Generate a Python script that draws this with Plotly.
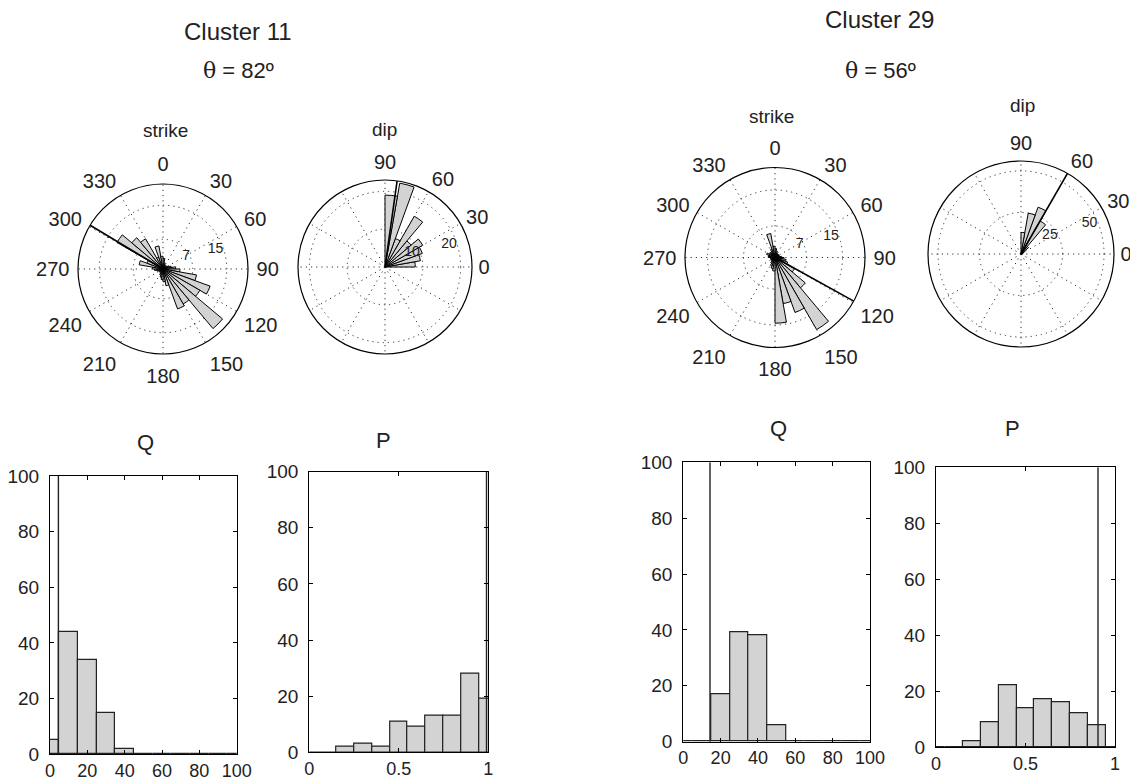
import plotly.graph_objects as go

W, H = 1130, 783

# ---------------- data ----------------
strike_centers = [5 + 10 * i for i in range(36)]
dip_centers = [5 + 10 * i for i in range(9)]

strike11 = [2.5, 1.5, 1, 1, 1, 1, 1.5, 2, 3, 4, 8, 11.8, 10, 18.3, 9.5, 10, 4, 3,
            2.5, 2, 1.5, 1, 1, 1, 1, 1.5, 2, 2.5, 5.7, 4, 12.5, 9.6, 8.2, 3, 5.5, 3]
dip11 = [8, 9.5, 10.5, 11.5, 9, 15.5, 8, 22.5, 19]
strike29 = [2, 1.5, 1, 1, 1, 1, 1, 1, 1.5, 2, 2.5, 3, 5, 8.8, 18.5, 13, 10.4, 14.6,
            3, 2.5, 2, 1.5, 1, 1, 1, 1, 1, 1.5, 1.5, 2, 1.5, 1.5, 1.5, 2, 5.4, 2.5]
dip29 = [1, 1, 1.5, 2.5, 6, 23, 30, 25, 13]

strike11_line, dip11_line = 301, 82
strike29_line, dip29_line = 119, 60

q_centers = [0, 10, 20, 30, 40, 50, 60, 70, 80, 90, 100]
p_centers = [0, 0.1, 0.2, 0.3, 0.4, 0.5, 0.6, 0.7, 0.8, 0.9, 1.0]
q11 = [5, 44, 34, 15, 2, 0, 0, 0, 0, 0, 0]
p11 = [0, 0, 2, 3, 2, 11, 9, 13, 13, 28, 19]
q29 = [0, 0, 17, 39, 38, 6, 0, 0, 0, 0, 0]
p29 = [0, 0, 2, 9, 22, 14, 17, 16, 12, 8, 0]
q11_line, p11_line = 4.5, 0.99
q29_line, p29_line = 14.3, 0.905

strike_ticks = list(range(0, 360, 30))
dip_ticks = list(range(0, 360, 30))
dip_ticktext = ["0", "30", "60", "90"] + [""] * 8

# ---------------- styling ----------------
FONT = "Liberation Sans, Arial, sans-serif"
BARC = "#d3d3d3"
GRIDC = "#333333"
GDASH = "1.2px,4px"

fig = go.Figure()


def xd(a, b):
    return [a / W, b / W]


def yd(top, bottom):
    return [1 - bottom / H, 1 - top / H]


def polar_layout(cx, cy, r, rmax, rticks, rtext, strike, rangle):
    ang = dict(
        tickvals=strike_ticks if strike else dip_ticks,
        ticktext=[str(t) for t in strike_ticks] if strike else dip_ticktext,
        direction="clockwise" if strike else "counterclockwise",
        rotation=90 if strike else 0,
        showline=True, linecolor="black", linewidth=1.2,
        showgrid=True, gridcolor=GRIDC, griddash=GDASH, gridwidth=1,
        ticks="outside", ticklen=4 if strike else 2, tickcolor="rgba(0,0,0,0)",
        tickfont=dict(size=20, color="#222", family=FONT),
    )
    rad = dict(
        range=[0, rmax], tickvals=rticks, ticktext=rtext,
        showline=False, showgrid=True, gridcolor=GRIDC, griddash=GDASH,
        gridwidth=1, ticks="", angle=rangle, tickangle=rangle,
        side="counterclockwise",
        tickfont=dict(size=14, color="#222", family=FONT),
    )
    return dict(domain=dict(x=xd(cx - r, cx + r), y=yd(cy - r, cy + r)),
                bgcolor="white", angularaxis=ang, radialaxis=rad)


polars = [
    ("polar", strike11, strike_centers, 10, strike11_line, 20),
    ("polar2", dip11, dip_centers, 10, dip11_line, 23),
    ("polar3", strike29, strike_centers, 10, strike29_line, 20),
    ("polar4", dip29, dip_centers, 10, dip29_line, 56),
]
for name, vals, cents, w, line_ang, rmax in polars:
    fig.add_trace(go.Barpolar(r=vals, theta=cents, width=[w] * len(vals),
                              marker=dict(color=BARC, line=dict(color="black", width=1)),
                              subplot=name, showlegend=False))
    fig.add_trace(go.Scatterpolar(r=[0, rmax], theta=[line_ang, line_ang], mode="lines",
                                  line=dict(color="black", width=1.6),
                                  subplot=name, showlegend=False))

fig.update_layout(
    polar=polar_layout(163, 269, 85, 20, [7, 15], ["7", "15"], True, 12),
    polar2=polar_layout(385, 267, 87, 23, [10, 20], ["10", "20"], False, 12),
    polar3=polar_layout(775, 257.5, 90, 20, [7, 15], ["7", "15"], True, 12),
    polar4=polar_layout(1021, 254, 93, 56, [25, 50], ["25", "50"], False, 17),
)

# ---------------- histograms ----------------
hists = [
    ("x", "y", q_centers, q11, 10, q11_line, (50, 236.7), (476, 754.3), True),
    ("x2", "y2", p_centers, p11, 0.1, p11_line, (309.3, 488.3), (471.7, 752.3), False),
    ("x3", "y3", q_centers, q29, 10, q29_line, (683.3, 870), (462.3, 741.7), True),
    ("x4", "y4", p_centers, p29, 0.1, p29_line, (936, 1115), (467.3, 747.3), False),
]
for i, (xa, ya, cents, vals, w, vline, xr, yr, isq) in enumerate(hists):
    fig.add_trace(go.Bar(x=cents, y=vals, width=w, xaxis=xa, yaxis=ya,
                         marker=dict(color=BARC, line=dict(color="#222", width=1.2)),
                         showlegend=False))
    fig.add_trace(go.Scatter(x=[vline, vline], y=[0, 100], mode="lines", xaxis=xa, yaxis=ya,
                             line=dict(color="#222", width=1.4), showlegend=False))
    sfx = "" if i == 0 else str(i + 1)
    common = dict(showline=True, linecolor="black", linewidth=1.2, mirror="ticks",
                  ticks="inside", ticklen=4, tickcolor="black", showgrid=False,
                  zeroline=False, automargin=False,
                  tickfont=dict(size=19, color="#222", family=FONT))
    if isq:
        xcfg = dict(range=[0, 100], tickvals=[0, 20, 40, 60, 80, 100])
    else:
        xcfg = dict(range=[0, 1], tickvals=[0, 0.5, 1], ticktext=["0", "0.5", "1"])
    xcfg.update(common)
    xcfg["tickfont"] = dict(size=18, color="#222", family=FONT)
    xcfg["domain"] = xd(*xr)
    xcfg["anchor"] = ya
    xcfg["ticklabelstandoff"] = 0
    ycfg = dict(range=[0, 100], tickvals=[0, 20, 40, 60, 80, 100], domain=yd(*yr), anchor=xa)
    ycfg.update(common)
    ycfg["ticklabelstandoff"] = 6
    fig.layout["xaxis" + sfx] = xcfg
    fig.layout["yaxis" + sfx] = ycfg

fig.update_layout(barmode="overlay", bargap=0)

# ---------------- texts ----------------
def ann(x, y, text, size):
    fig.add_annotation(x=x / W, y=1 - y / H, xref="paper", yref="paper", text=text,
                       showarrow=False, xanchor="center", yanchor="middle",
                       font=dict(size=size, color="#222", family=FONT))


ann(238, 31, "Cluster 11", 24)
ann(238, 70, "<span style='font-family:DejaVu Serif'>θ</span> = 82º", 22)
ann(879, 20, "Cluster 29", 24)
ann(880, 70, "<span style='font-family:DejaVu Serif'>θ</span> = 56º", 22)
ann(165, 131, "strike", 19)
ann(385, 129, "dip", 19)
ann(771, 116, "strike", 19)
ann(1022, 106, "dip", 19)
ann(145, 442, "Q", 22)
ann(383, 440, "P", 22)
ann(778, 428, "Q", 22)
ann(1012, 428, "P", 22)

fig.update_layout(width=W, height=H, autosize=False,
                  margin=dict(l=0, r=0, t=0, b=0, autoexpand=False),
                  paper_bgcolor="white", plot_bgcolor="white",
                  font=dict(family=FONT, color="#222"))

POST = (
    "document.documentElement.style.overflow='hidden';"
    "document.body.style.margin='0';document.body.style.overflow='hidden';"
)
fig.write_html("out.html", post_script=POST)
